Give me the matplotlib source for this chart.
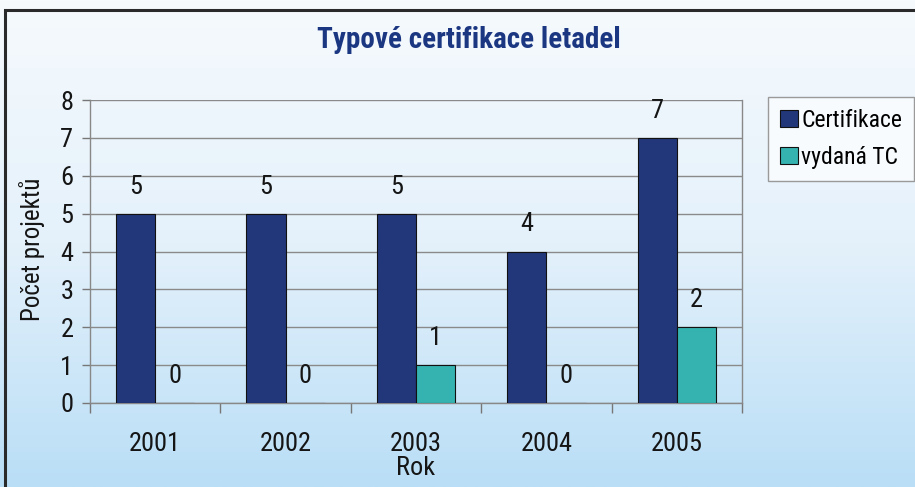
import numpy as np
import matplotlib
matplotlib.use("Agg")
import matplotlib.pyplot as plt
from matplotlib import font_manager as fm
from matplotlib.patches import Rectangle
from matplotlib.colors import LinearSegmentedColormap

years = ["2001", "2002", "2003", "2004", "2005"]
certifikace = [5, 5, 5, 4, 7]
vydana_tc = [0, 0, 1, 0, 2]
series_names = ["Certifikace", "vydaná TC"]
title = "Typové certifikace letadel"

# pick a condensed font if available
ttf = fm.fontManager.ttflist
names = {f.name for f in ttf}
stretch = "normal"
family = "DejaVu Sans"
for cand in ["Liberation Sans Narrow", "Roboto Condensed", "Open Sans Condensed",
             "Noto Sans Condensed", "DejaVu Sans Condensed", "Arial Narrow"]:
    if cand in names:
        family = cand
        break
else:
    for fam in ["Roboto", "Open Sans", "Noto Sans", "DejaVu Sans", "Inter"]:
        if any(f.name == fam and str(f.stretch) in ("condensed", "semi-condensed", "extra-condensed", "75", "62", "87") for f in ttf):
            family = fam
            stretch = "condensed"
            break
plt.rcParams['font.family'] = [family, "DejaVu Sans"]
plt.rcParams['font.stretch'] = stretch

W, H = 915, 487
fig = plt.figure(figsize=(W/100, H/100), dpi=100)

bg = fig.add_axes([0, 0, 1, 1], zorder=-10)
cmap = LinearSegmentedColormap.from_list("bg", ["#f6fafd", "#e4f1fb", "#b9def6"])
grad = np.linspace(0, 1, 256).reshape(-1, 1)
bg.imshow(grad, aspect="auto", cmap=cmap, extent=[0, 1, 0, 1], origin="upper")
bg.set_axis_off()
fig.patches.append(Rectangle((5/W, -0.1), 1.2, 1 - 10/H + 0.1, transform=fig.transFigure,
                             fill=False, edgecolor="#2a2a2a", linewidth=2.2, zorder=5))

ax = fig.add_axes([90/W, 1 - 403/H, (742-90)/W, (403-100)/H])
ax.patch.set_alpha(0)
x = np.arange(len(years))
w = 0.3
dark = "#22377a"
teal = "#35b3b0"
b1 = ax.bar(x - w/2, certifikace, w, color=dark, edgecolor="#111111", linewidth=0.8, zorder=3, label=series_names[0])
b2 = ax.bar(x + w/2, vydana_tc, w, color=teal, edgecolor="#111111", linewidth=0.8, zorder=3, label=series_names[1])

for xs, vals in ((x - w/2, certifikace), (x + w/2, vydana_tc)):
    for xi, v in zip(xs, vals):
        ax.annotate(str(v), (xi, v), xytext=(0, 19.5), textcoords="offset points",
                    ha="center", va="center", fontsize=19, color="#151515")

ax.set_xlim(-0.5, 4.5)
ax.set_ylim(0, 8)
ax.set_yticks(range(0, 9))
ax.tick_params(axis="y", labelsize=19, length=6, color="#777777", width=1, pad=6,
               labelcolor="#151515")
ax.yaxis.grid(True, color="#8a8a8a", linewidth=1, zorder=0)
ax.set_xticks(x)
ax.set_xticklabels(years)
ax.set_xticks(np.arange(-0.5, 5, 1), minor=True)
ax.tick_params(axis="x", which="major", length=0, labelsize=19, pad=21, labelcolor="#151515")
ax.tick_params(axis="x", which="minor", length=7, color="#777777", width=1)
ax.spines["top"].set_visible(False)
for s in ("left", "right", "bottom"):
    ax.spines[s].set_color("#888888")
    ax.spines[s].set_linewidth(1)
ax.set_ylabel("Počet projektů", fontsize=18, va="center", color="#151515")
ax.yaxis.set_label_coords((32-90)/652, (403-249)/303)
ax.set_xlabel("Rok", fontsize=19, va="center", color="#151515")
ax.xaxis.set_label_coords(0.5, (403-468)/303)

fig.text(469/W, 1 - 40/H, title, ha="center", va="center", fontsize=21,
         fontweight="bold", color="#1b3782")

leg = fig.legend(handles=[b1, b2], labels=series_names, loc="upper left",
                 bbox_to_anchor=(768/W, 1 - 97/H), fontsize=17, frameon=True,
                 fancybox=False, edgecolor="#9a9a9a", facecolor="#f7fbfe", framealpha=1,
                 handlelength=0.75, handleheight=0.75, handletextpad=0.15, labelspacing=0.6,
                 borderpad=0.5, borderaxespad=0)
leg.get_frame().set_linewidth(1)

fig.savefig("out.png", dpi=100)
